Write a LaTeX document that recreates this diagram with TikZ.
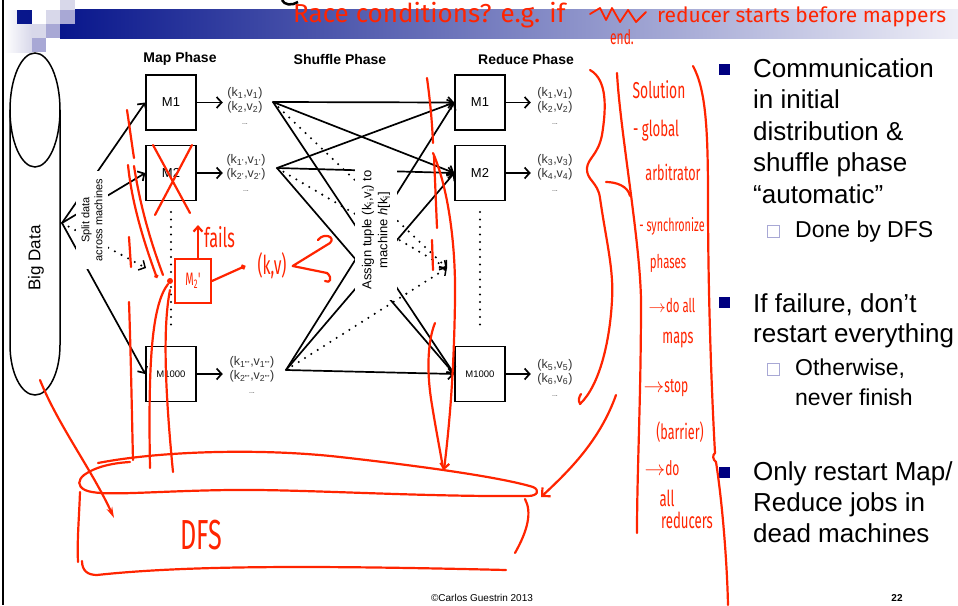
\documentclass[tikz,border=0pt]{standalone}
\usepackage{fontspec}
\setmainfont{Liberation Sans}
\newfontfamily\hand{Fira Sans}
\newfontfamily\handn[FakeStretch=0.6]{Fira Sans}
\usetikzlibrary{arrows.meta}

\definecolor{ink}{RGB}{255,36,0}
\definecolor{navy}{RGB}{0,0,128}
\definecolor{barL}{RGB}{8,22,140}
\definecolor{barR}{RGB}{238,238,247}
\definecolor{lav}{RGB}{168,168,213}
\definecolor{lavlight}{RGB}{216,216,234}
\definecolor{pairgray}{RGB}{50,50,50}

\begin{document}
\begin{tikzpicture}[x=1pt,y=-1pt,
		mbox/.style={draw,line width=1.5pt,fill=white,minimum width=50pt,minimum height=55pt,inner sep=0pt,font=\fontsize{13}{13}\selectfont},
		pair/.style={align=center,text=pairgray,inner sep=0pt,font=\fontsize{12.5}{14}\selectfont},
		phase/.style={font=\bfseries\fontsize{14}{14}\selectfont},
		arr/.style={line width=1.7pt,-{Straight Barb[length=5pt,width=11pt,line width=1.7pt]}},
		dots/.style={line width=2.3pt,line cap=round,dash pattern=on 0pt off 7.5pt},
		dtip/.style={-{Straight Barb[length=5pt,width=11pt,line width=1.5pt]}},
		vlabel/.style={rotate=90,fill=white,align=center},
		bigtxt/.style={font=\fontsize{26}{26}\selectfont,anchor=base west,inner sep=0pt},
		subtxt/.style={font=\fontsize{23}{23}\selectfont,anchor=base west,inner sep=0pt},
		bul/.style={fill=navy,minimum size=11pt,inner sep=0pt},
		subbul/.style={draw=lav,line width=1pt,fill=white,minimum size=12pt,inner sep=0pt},
		scrib/.style={draw=ink,line width=2.2pt,line cap=round,line join=round},
		hw/.style={text=ink,inner sep=0pt,font=\hand\fontsize{#1}{#1}\selectfont},
		hw/.default=15,
		hn/.style={text=ink,inner sep=0pt,font=\handn\fontsize{#1}{#1}\selectfont},
		hn/.default=20]
	\useasboundingbox (0,0) rectangle (958,605);

	% slide frame and header bar
	\draw[line width=1.5pt] (3,0) -- (3,605);
	\shade[left color=white,right color=lavlight] (4,10) rectangle (32,52);
	\shade[left color=barL,right color=barR] (60,9) rectangle (958,38);
	\fill[barL] (17,10) rectangle (32,24);
	\fill[white] (32,10) rectangle (46,24);
	\fill[lavlight] (46,10) rectangle (60,24);
	\fill[lav] (60,10) rectangle (75,24);
	\fill[lavlight] (60,0) rectangle (75,10);
	\fill[lavlight] (32,24) rectangle (46,38);
	\fill[lav] (46,24) rectangle (60,38);
	\fill[lav] (32,38) rectangle (46,52);
	\draw[line width=2.5pt] (282,0) .. controls (284,5) and (292,6) .. (298,2);

	% big data store
	\draw[line width=1.5pt] (35,110) ellipse [x radius=25pt,y radius=57pt];
	\draw[line width=1.5pt] (10,110) -- (10,345) arc[start angle=180,end angle=360,x radius=25pt,y radius=50pt] -- (60,110);
	\node[rotate=90,font=\fontsize{17}{17}\selectfont] (bd) at (36,258) {Big Data};

	\node[phase] (mp) at (180,59) {Map Phase};
	\node[phase] (sp) at (340,59) {Shuffle Phase};
	\node[phase] (rp) at (526,59) {Reduce Phase};

	% mappers and reducers
	\node[mbox] (m1) at (171,102.5) {M1};
	\node[mbox] (m2) at (171,173) {M2};
	\node[mbox] (m3) at (171,374) {\fontsize{9.5}{9.5}\selectfont M1000};
	\node[mbox] (r1) at (480,102.5) {M1};
	\node[mbox] (r2) at (480,173) {M2};
	\node[mbox] (r3) at (480,374) {\fontsize{9.5}{9.5}\selectfont M1000};

	\node[pair] (p1) at (245,106) {(k\textsubscript{1},v\textsubscript{1})\\(k\textsubscript{2},v\textsubscript{2})\\{\fontsize{7}{7}\selectfont...}};
	\node[pair] (p2) at (246,173) {(k\textsubscript{1'},v\textsubscript{1'})\\(k\textsubscript{2'},v\textsubscript{2'})\\{\fontsize{7}{7}\selectfont...}};
	\node[pair] (p3) at (252,375) {(k\textsubscript{1'''},v\textsubscript{1'''})\\(k\textsubscript{2'''},v\textsubscript{2'''})\\{\fontsize{7}{7}\selectfont...}};
	\node[pair] (q1) at (555,106) {(k\textsubscript{1},v\textsubscript{1})\\(k\textsubscript{2},v\textsubscript{2})\\{\fontsize{7}{7}\selectfont...}};
	\node[pair] (q2) at (555,173) {(k\textsubscript{3},v\textsubscript{3})\\(k\textsubscript{4},v\textsubscript{4})\\{\fontsize{7}{7}\selectfont...}};
	\node[pair] (q3) at (555,378) {(k\textsubscript{5},v\textsubscript{5})\\(k\textsubscript{6},v\textsubscript{6})\\{\fontsize{7}{7}\selectfont...}};

	\foreach \i in {1,2,3}
	{
		\draw[arr] (m\i.east) -- ++(26,0);
		\draw[arr] (r\i.east) -- ++(25,0);
	}

	% split from the store
	\coordinate (src) at (62,223);
	\foreach \i in {1,2,3}
		\draw[arr] (src) -- (m\i.west);
	\draw[dots,dtip] (src) -- (146,268);
	\draw[dots] (171,212) -- (171,332);
	\draw[dots] (480,212) -- (480,332);

	% shuffle
	\coordinate (o1) at (273,102);
	\coordinate (o2) at (277,168);
	\coordinate (o3) at (286,370);
	\coordinate (mid) at (447,268);
	\foreach \s in {o1,o2,o3}
	{
		\foreach \t in {r1,r2,r3}
			\draw[arr] (\s) -- (\t.west);
		\draw[dots,dtip] (\s) -- (mid);
	}

	\node[vlabel,font=\fontsize{11}{13}\selectfont,inner xsep=8pt,inner ysep=5pt] (split) at (92,220) {Split data\\across machines};
	\node[vlabel,font=\fontsize{13}{16}\selectfont,inner xsep=10pt,inner ysep=7pt] (assign) at (376,230) {Assign tuple (k\textsubscript{i},v\textsubscript{i}) to\\machine \textit{h}[k\textsubscript{i}]};

	% bullets
	\node[bul] (b1) at (724,69) {};
	\foreach \t [count=\i from 0] in {Communication,in initial,distribution \&,shuffle phase,“automatic”}
		\node[bigtxt] (c\i) at (753,{77+31.5*\i}) {\t};
	\node[subbul] (s1) at (773.5,231) {};
	\node[subtxt] (d1) at (795,237) {Done by DFS};
	\node[bul] (b2) at (724,302.5) {};
	\foreach \t [count=\i from 0] in {{If failure, don’t},restart everything}
		\node[bigtxt] (f\i) at (753,{312+30*\i}) {\t};
	\node[subbul] (s2) at (773.5,369) {};
	\foreach \t [count=\i from 0] in {{Otherwise,},never finish}
		\node[subtxt] (o\i) at (795,{375+30*\i}) {\t};
	\node[bul] (b3) at (724,472.5) {};
	\foreach \t [count=\i from 0] in {Only restart Map/,Reduce jobs in,dead machines}
		\node[bigtxt] (j\i) at (753,{480+31*\i}) {\t};

	\node[font=\fontsize{10}{10}\selectfont] (copy) at (482,598) {©Carlos Guestrin 2013};
	\node[font=\bfseries\fontsize{10}{10}\selectfont] (pg) at (897,598) {22};

	% pen notes
	\node[hw=26,anchor=base west] (race) at (293,23) {Race conditions? e.g. if};
	\draw[scrib,line width=1.8pt] (590,14) -- (600,8) -- (606,20) -- (612,8) -- (620,22) -- (628,10) -- (636,22) -- (646,12);
	\node[hw=21,anchor=base west] (late) at (657,22) {reducer starts before mappers};
	\node[hn=20,anchor=base west] (endn) at (610,44) {end.};

	\draw[scrib] (153,145) -- (190,213) (192,145) -- (155,215);
	\node[draw=ink,line width=2pt,minimum width=36pt,minimum height=44pt,hn=18] (m2b) at (193,281) {M\textsubscript{2}'};
	\draw[scrib,-{Straight Barb[length=5pt,width=9pt]}] ([xshift=5pt]m2b.north) -- ++(0,-33);
	\node[hn=27,anchor=west] (fails) at (204,237) {fails};
	\node[hn=26] (kv) at (272,266) {(k,v)};
	\draw[scrib,-{Circle[open,length=5pt]}] (m2b.east) -- ([xshift=-12pt]kv.west);
	\draw[scrib] (330,243) -- ([xshift=6pt]kv.east) -- (327,273);
	\draw[scrib] (330,243) .. controls (336,237) and (324,232) .. (318,240);
	\draw[scrib] (327,273) .. controls (333,278) and (330,284) .. (325,281);

	\draw[scrib] (127,110) .. controls (130,130) and (132,145) .. (134,158);
	\draw[scrib,-{Circle[length=4pt]}] (128,165) .. controls (132,205) and (145,245) .. (157,278);
	\draw[scrib] (134,166) .. controls (140,205) and (150,240) .. (163,275);
	\draw[scrib] (129,237) -- (131,267);
	\draw[scrib] (129,302) .. controls (131,360) and (132,420) .. (133,460);
	\draw[scrib] (168,284) .. controls (152,305) and (148,360) .. (150,468);
	\draw[scrib] (170,290) .. controls (162,330) and (166,400) .. (173,472);
	\fill[ink] (170,281) circle (3pt);

	% dfs drum
	\draw[scrib] (98,463) .. controls (160,451) and (260,448) .. (340,457) .. controls (420,466) and (500,477) .. (533,487) .. controls (540,490) and (538,496) .. (528,496) .. controls (420,497) and (300,489) .. (230,490) .. controls (150,491) and (100,497) .. (85,490) .. controls (77,486) and (78,480) .. (84,475) .. controls (95,467) and (112,463) .. (130,462);
	\draw[scrib] (80,492) .. controls (79,520) and (77,540) .. (78,562);
	\draw[scrib] (82,561) .. controls (82,571) and (88,575) .. (97,575) .. controls (180,566) and (300,565) .. (506,570);
	\draw[scrib] (525,499) .. controls (532,512) and (528,530) .. (515,553);
	\node[hn=42] (dfs) at (201,535) {DFS};
	\draw[scrib,-{Stealth[length=11pt,width=6pt]}] (40,380) .. controls (58,425) and (92,470) .. (114,518);

	\draw[scrib] (427,78) .. controls (430,100) and (432,120) .. (433,143);
	\draw[scrib,-{Straight Barb[length=5pt,width=9pt]}] (433,153) .. controls (447,185) and (456,240) .. (455,300) .. controls (454,370) and (450,420) .. (444,470);
	\draw[scrib] (434,156) -- (437,228) (432,240) -- (433,270);
	\draw[scrib] (435,323) .. controls (428,340) and (426,370) .. (432,405) .. controls (436,430) and (440,450) .. (443,468);

	% solution column
	\draw[scrib] (590,70) .. controls (608,80) and (606,110) .. (602,135) .. controls (598,155) and (588,158) .. (587,168) .. controls (586,180) and (598,182) .. (600,198) .. controls (606,240) and (614,270) .. (612,300) .. controls (610,340) and (600,385) .. (580,404) .. controls (578,400) and (579,397) .. (581,394);
	\draw[scrib] (606,182) .. controls (616,182) and (628,186) .. (630,196);
	\draw[scrib] (617,73) .. controls (620,130) and (640,240) .. (641,300) .. controls (641,400) and (637,470) .. (637,533);
	\draw[scrib] (693,66) .. controls (706,90) and (708,130) .. (708,200) .. controls (708,300) and (712,400) .. (715,453) .. controls (712,455) and (713,460) .. (716,462) .. controls (722,500) and (727,560) .. (728,605);
	\draw[scrib,-{Straight Barb[length=6pt,width=12pt]}] (616,395) .. controls (600,440) and (570,470) .. (541,497);

	\node[hn=23] (n1) at (659,90) {Solution};
	\node[hn=22] (n2) at (656,131) {- global};
	\node[hn=21] (n3) at (673,172) {arbitrator};
	\node[hn=18] (n4) at (672,226) {- synchronize};
	\node[hn=19] (n5) at (668,263) {phases};
	\node[hn=19] (n6) at (672,305) {$\rightarrow$do all};
	\node[hn=21] (n7) at (678,340) {maps};
	\node[hn=20] (n8) at (666,388) {$\rightarrow$stop};
	\node[hn=21] (n9) at (680,432) {(barrier)};
	\node[hn=20] (n10) at (662,468) {$\rightarrow$do};
	\node[hn=22] (n11) at (667,498) {all};
	\node[hn=22] (n12) at (687,520) {reducers};
\end{tikzpicture}
\end{document}
